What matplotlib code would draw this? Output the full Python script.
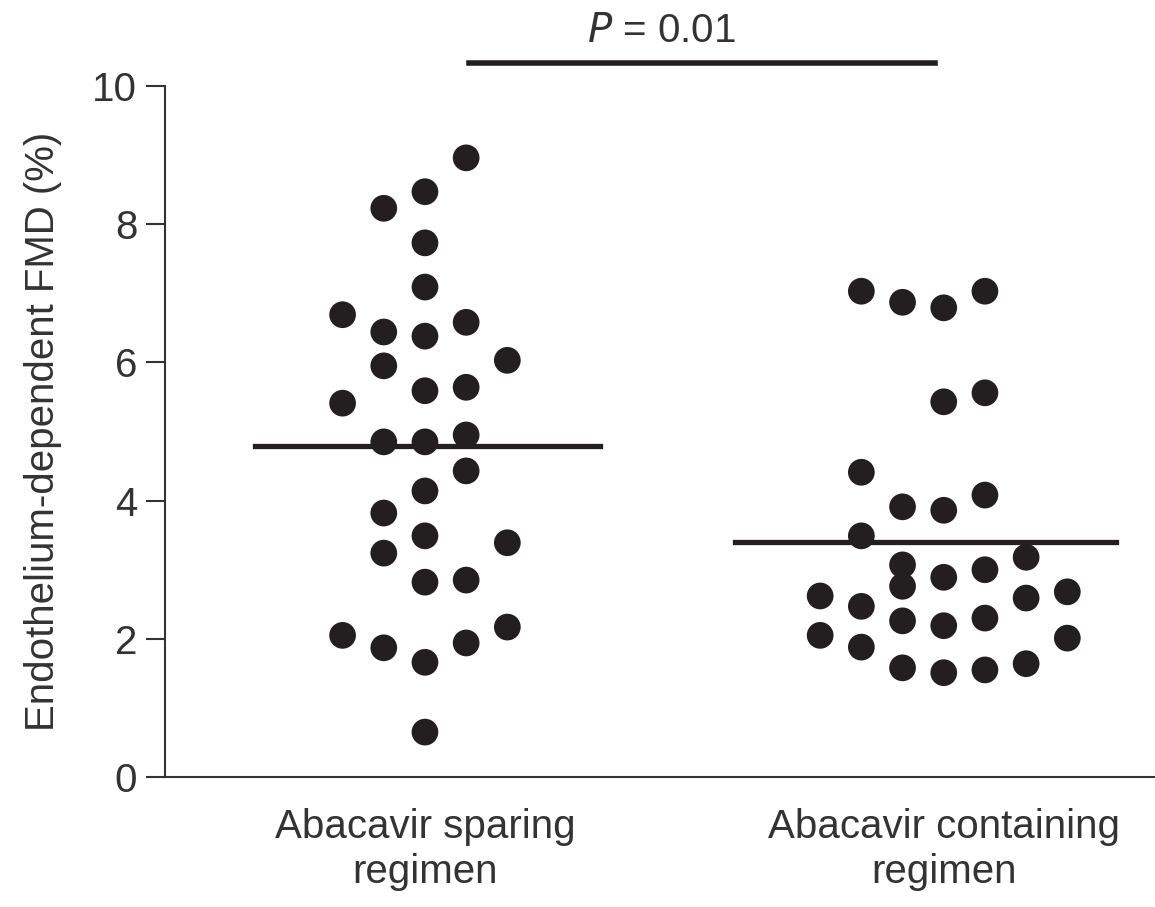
import matplotlib
matplotlib.use("Agg")
import matplotlib.pyplot as plt
import numpy as np

plt.rcParams['font.family'] = ['Liberation Sans', 'DejaVu Sans']

groups = ["Abacavir sparing\nregimen", "Abacavir containing\nregimen"]

# FMD values (%) per point, with the column slot of each dot in the swarm
sparing_fmd = [8.96, 8.47, 8.23, 7.73, 7.09, 6.69, 6.58, 6.44, 6.38, 6.03,
               5.95, 5.59, 5.64, 5.41, 4.85, 4.85, 4.95, 4.43, 4.14, 3.82,
               3.49, 3.39, 3.24, 2.82, 2.85, 2.17, 2.05, 1.94, 1.87, 1.66,
               0.65]
sparing_slot = [1, 0, -1, 0, 0, -2, 1, -1, 0, 2,
                -1, 0, 1, -2, -1, 0, 1, 1, 0, -1,
                0, 2, -1, 0, 1, 2, -2, 1, -1, 0,
                0]

containing_fmd = [7.03, 6.87, 6.79, 7.03, 5.43, 5.56, 4.41, 3.91, 3.86, 4.08,
                  3.49, 3.07, 2.76, 2.89, 3.00, 3.18, 2.62, 2.47, 2.59, 2.68,
                  2.26, 2.19, 2.30, 2.05, 1.88, 2.01, 1.58, 1.51, 1.55, 1.64]
containing_slot = [-2, -1, 0, 1, 0, 1, -2, -1, 0, 1,
                   -2, -1, -1, 0, 1, 2, -3, -2, 2, 3,
                   -1, 0, 1, -3, -2, 3, -1, 0, 1, 2]

means = [4.79, 3.40]
p_text = "$P$ = 0.01"

# layout
slot_w = 0.0794
dot_color = '#231f20'
txt_color = '#333333'
fs = 29

fig = plt.figure(figsize=(11.55, 9.07), dpi=100)
ax = fig.add_axes([0.1429, 0.1433, 0.857, 0.7619])

for gx, vals, slots in [(1, sparing_fmd, sparing_slot),
                        (2, containing_fmd, containing_slot)]:
    xs = gx + np.array(slots) * slot_w
    ax.scatter(xs, vals, s=370, color=dot_color, edgecolors='none',
               zorder=3, clip_on=False)

# mean lines
ax.plot([0.672, 1.337], [means[0]] * 2, color=dot_color, lw=3.8, zorder=4)
ax.plot([1.597, 2.333], [means[1]] * 2, color=dot_color, lw=3.8, zorder=4)

# significance bar
ax.plot([1.085, 1.983], [10.33, 10.33], color=dot_color, lw=4,
        clip_on=False)
ax.text(1.455, 10.52, p_text, ha='center', va='bottom', fontsize=fs,
        color=txt_color)

ax.set_xlim(0.499, 2.407)
ax.set_ylim(0, 10)
ax.set_yticks([0, 2, 4, 6, 8, 10])
ax.set_xticks([1, 2])
ax.set_xticklabels(groups, fontsize=fs, color=txt_color, linespacing=1.25)
ax.tick_params(axis='x', length=0, pad=22)
ax.tick_params(axis='y', length=14, width=1.5, labelsize=fs, pad=6,
               colors=txt_color)
ax.set_ylabel("Endothelium-dependent FMD (%)", fontsize=fs, color=txt_color,
              labelpad=22)

for side in ['top', 'right']:
    ax.spines[side].set_visible(False)
for side in ['left', 'bottom']:
    ax.spines[side].set_linewidth(1.5)
    ax.spines[side].set_color(txt_color)

fig.savefig("out.png", dpi=100)
